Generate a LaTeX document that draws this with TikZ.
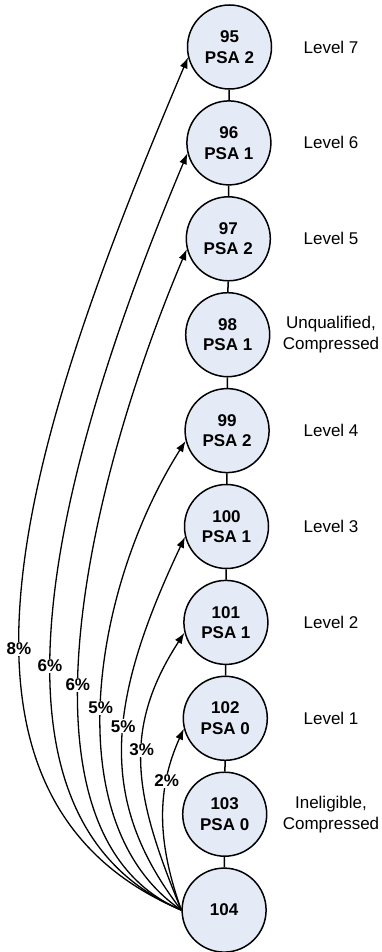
\documentclass[tikz,border=0pt]{standalone}
\usepackage{fontspec}
\setmainfont{Liberation Sans}
\usetikzlibrary{arrows.meta}
\definecolor{statefill}{RGB}{229,235,246}
\tikzset{
  state/.style={circle, draw=black, line width=1.5pt, fill=statefill,
    minimum size=84pt, inner sep=0pt, align=center,
    font=\fontsize{17}{20.5}\selectfont\bfseries},
  levellabel/.style={align=center, font=\fontsize{17}{21}\selectfont},
  chainline/.style={line width=1.5pt},
  jump/.style={line width=1.3pt, -{Latex[length=11pt,width=8pt]}},
  pct/.style={fill=white, inner sep=1pt, font=\fontsize{17}{20}\selectfont\bfseries},
}
\begin{document}
\begin{tikzpicture}[x=1pt,y=-1pt]
\useasboundingbox (0,0) rectangle (381,952);

% states
\node[state] (n95)  at (229.5,47)    {95\\PSA 2};
\node[state] (n96)  at (228.9,142.9) {96\\PSA 1};
\node[state] (n97)  at (228.3,238.8) {97\\PSA 2};
\node[state] (n98)  at (227.7,334.7) {98\\PSA 1};
\node[state] (n99)  at (227.1,430.6) {99\\PSA 2};
\node[state] (n100) at (226.5,526.5) {100\\PSA 1};
\node[state] (n101) at (225.9,622.4) {101\\PSA 1};
\node[state] (n102) at (225.3,718.3) {102\\PSA 0};
\node[state] (n103) at (224.7,814.2) {103\\PSA 0};
\node[state] (n104) at (224.1,910.1) {104};

% level names
\node[levellabel] (l95)  at (331,47)    {Level 7};
\node[levellabel] (l96)  at (331,142.9) {Level 6};
\node[levellabel] (l97)  at (331,238.8) {Level 5};
\node[levellabel] (l98)  at (331,334.7) {Unqualified,\\Compressed};
\node[levellabel] (l99)  at (331,430.6) {Level 4};
\node[levellabel] (l100) at (331,526.5) {Level 3};
\node[levellabel] (l101) at (331,622.4) {Level 2};
\node[levellabel] (l102) at (331,718.3) {Level 1};
\node[levellabel] (l103) at (331,814.2) {Ineligible,\\Compressed};

% chain between neighbouring states
\draw[chainline] (n95) -- (n96);
\draw[chainline] (n96) -- (n97);
\draw[chainline] (n97) -- (n98);
\draw[chainline] (n98) -- (n99);
\draw[chainline] (n99) -- (n100);
\draw[chainline] (n100) -- (n101);
\draw[chainline] (n101) -- (n102);
\draw[chainline] (n102) -- (n103);
\draw[chainline] (n103) -- (n104);

% jumps out of state 104
\draw[jump] (n104.west) .. controls +(-276,-117) and +(-156,368) .. (n95.194)
  node[pct, pos=.42] (p95) {8\%};
\draw[jump] (n104.west) .. controls +(-224,-95) and +(-126,300) .. (n96.194)
  node[pct, pos=.43] (p96) {6\%};
\draw[jump] (n104.west) .. controls +(-177,-75) and +(-100,236) .. (n97.194)
  node[pct, pos=.44] (p97) {6\%};
\draw[jump] (n104.west) .. controls +(-125,-85) and +(-95,150) .. (n99.194)
  node[pct, pos=.485] (p99) {5\%};
\draw[jump] (n104.west) .. controls +(-85,-110) and +(-78,165) .. (n100.194)
  node[pct, pos=.55] (p100) {5\%};
\draw[jump] (n104.west) .. controls +(-45,-110) and +(-65,100) .. (n101.194)
  node[pct, pos=.57] (p101) {3\%};
\draw[jump] (n104.west) .. controls +(-25,-70) and +(-27,60) .. (n102.194)
  node[pct, pos=.7] (p102) {2\%};
\end{tikzpicture}
\end{document}
